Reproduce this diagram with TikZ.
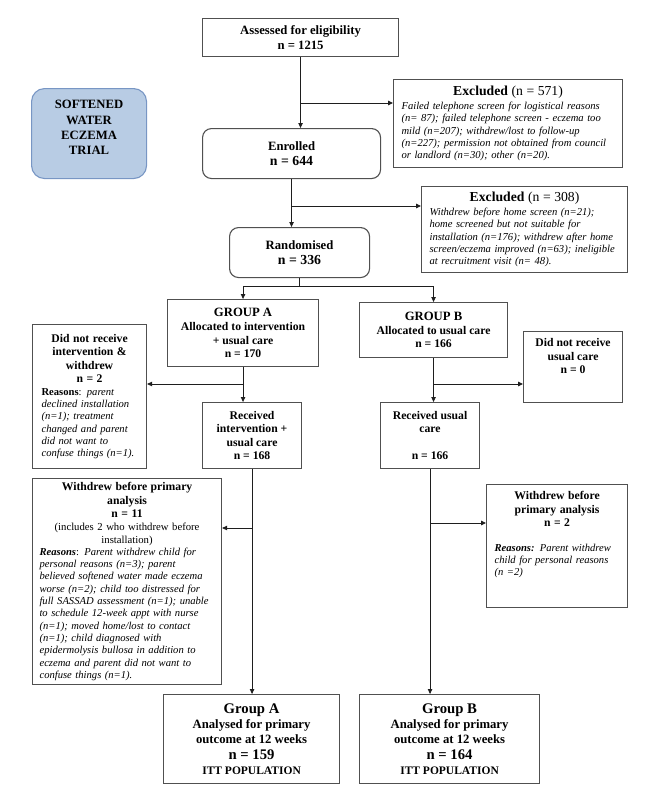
\documentclass[tikz,border=0pt]{standalone}
\usepackage{fontspec}
\setmainfont{Liberation Serif}
\usepackage{tikz}
\usetikzlibrary{arrows.meta}
\setlength{\parindent}{0pt}
\definecolor{boxgray}{RGB}{80,80,80}
\definecolor{linegray}{RGB}{30,30,30}
\definecolor{trialfill}{RGB}{184,204,228}
\definecolor{trialdraw}{RGB}{120,150,196}
\newcommand{\fsBody}{\fontsize{11.7}{13.6}\selectfont}
\newcommand{\fsTitle}{\fontsize{12.7}{15.3}\selectfont}
\newcommand{\fsNum}{\fontsize{13.8}{15.5}\selectfont}
\newcommand{\fsHead}{\fontsize{13.7}{14}\selectfont}
\newcommand{\fsBig}{\fontsize{14.7}{15.5}\selectfont}
\newcommand{\fsNote}{\fontsize{10.6}{12.3}\selectfont}
\newcommand{\fsSmall}{\fontsize{11.5}{15.5}\selectfont}
\newcommand{\padb}[1]{\rule[-#1]{0pt}{#1}}

\begin{document}
\begin{tikzpicture}[x=1pt,y=-1pt]
	\tikzset{flowbox/.style={draw=boxgray, line width=1.1pt, anchor=north west, inner sep=2pt, align=center, font=\fsBody\bfseries},
		roundbox/.style={flowbox, rounded corners=9pt, font=\fsTitle\bfseries},
		notebox/.style={draw=boxgray, line width=1.1pt, anchor=north west, inner xsep=#1, inner ysep=2pt, font=\fsNote},
		arr/.style={draw=linegray, line width=0.9pt, -{Triangle[length=5pt,width=4.5pt]}}}
	\useasboundingbox (0,0) rectangle (655,800);
	\node[flowbox, minimum width=196pt, minimum height=38pt, font=\fsTitle\bfseries] (assess) at (202,18) {Assessed for eligibility\\n = 1215};
	\node[roundbox, rounded corners=13pt, fill=trialfill, draw=trialdraw, minimum width=115pt, minimum height=90pt] (trial) at (31,88) {SOFTENED\\WATER\\ECZEMA\\TRIAL\padb{12pt}};
	\node[roundbox, minimum width=178pt, minimum height=50pt] (enrol) at (202,128) {Enrolled\\{\fsNum n = 644}};
	\node[roundbox, minimum width=140pt, minimum height=50pt] (rand) at (229,227) {Randomised\\{\fsNum n = 336}};
	\node[notebox=8pt, text width=213pt, minimum height=88pt] (excl1) at (393,79) {{\centering\fsHead\textbf{Excluded} (n = 571)\par}\vspace{1.5pt}\raggedright\itshape Failed telephone screen for logistical reasons\\(n= 87); failed telephone screen - eczema too\\mild (n=207); withdrew/lost to follow-up\\(n=227); permission not obtained from council\\or landlord (n=30); other (n=20).};
	\node[notebox=8pt, text width=190pt, minimum height=86pt] (excl2) at (421,186) {{\centering\fsHead\textbf{Excluded} (n = 308)\par}\vspace{1.5pt}\raggedright\itshape Withdrew before home screen (n=21);\\home screened but not suitable for\\installation (n=176); withdrew after home\\screen/eczema improved (n=63); ineligible\\at recruitment visit (n= 48).};
	\node[flowbox, minimum width=151pt, minimum height=67pt] (grpA) at (167,299) {{\fsTitle GROUP A}\\Allocated to intervention\\+ usual care\\n = 170};
	\node[flowbox, minimum width=148pt, minimum height=55pt] (grpB) at (359,302) {{\fsTitle GROUP B}\\Allocated to usual care\\n = 166};
	\node[notebox=9pt, text width=96pt, minimum height=144pt] (notA) at (32,324) {{\centering\fsBody\bfseries Did not receive\\intervention \&\\withdrew\\n = 2\par}\raggedright\textbf{Reasons}: {\itshape parent\\declined installation\\(n=1); treatment\\changed and parent\\did not want to\\confuse things (n=1).}};
	\node[flowbox, minimum width=99pt, minimum height=66pt] (recA) at (202,402) {Received\\intervention +\\usual care\\n = 168};
	\node[flowbox, minimum width=99pt, minimum height=71pt] (notB) at (523,331) {Did not receive\\usual care\\n = 0\padb{22pt}};
	\node[flowbox, minimum width=99pt, minimum height=66pt] (recB) at (380,402) {Received usual\\care\\[13.6pt]n = 166};
	\node[notebox=7pt, text width=175pt, minimum height=206pt] (wdA) at (32,478) {{\centering\fsBody\bfseries Withdrew before primary\\analysis\\n = 11\par}{\centering\fontsize{10.7}{12.6}\selectfont(includes 2 who withdrew before\\installation)\par}\raggedright\textbf{\textit{Reasons}}: {\itshape Parent withdrew child for\\personal reasons (n=3); parent\\believed softened water made eczema\\worse (n=2); child too distressed for\\full SASSAD assessment (n=1); unable\\to schedule 12-week appt with nurse\\(n=1); moved home/lost to contact\\(n=1); child diagnosed with\\epidermolysis bullosa in addition to\\eczema and parent did not want to\\confuse things (n=1).}};
	\node[notebox=8pt, text width=125pt, minimum height=123pt] (wdB) at (486,484) {{\centering\fsBody\bfseries Withdrew before\\primary analysis\\n = 2\par}\vspace{12pt}\raggedright\textbf{\textit{Reasons:}} {\itshape Parent withdrew\\child for personal reasons\\(n =2)}\padb{25pt}};
	\node[flowbox, minimum width=176pt, minimum height=89pt, font=\fsTitle\bfseries] (finA) at (163,694) {{\fsBig Group A}\\Analysed for primary\\outcome at 12 weeks\\{\fsBig n = 159}\\{\fsSmall ITT POPULATION}};
	\node[flowbox, minimum width=180pt, minimum height=89pt, font=\fsTitle\bfseries] (finB) at (359,694) {{\fsBig Group B}\\Analysed for primary\\outcome at 12 weeks\\{\fsBig n = 164}\\{\fsSmall ITT POPULATION}};
	\foreach \a/\b in {assess/enrol, enrol/rand, grpA/recA, grpB/recB, recA/finA, recB/finB}{
		\draw[arr] (\a.south) -- (\a.south |- \b.north);
	}
	\foreach \a/\b/\s/\y in {assess/excl1/west/103, enrol/excl2/west/206, grpA/notA/east/384, grpB/notB/west/384, recA/wdA/east/528, recB/wdB/west/523}{
		\draw[arr] (\a.south |- 0,\y) -- (\b.\s |- 0,\y);
	}
	\draw[arr] (rand.south) -- ++(0,8) -| (grpA.north);
	\draw[arr] (rand.south) -- ++(0,8) -| (grpB.north);
\end{tikzpicture}
\end{document}
